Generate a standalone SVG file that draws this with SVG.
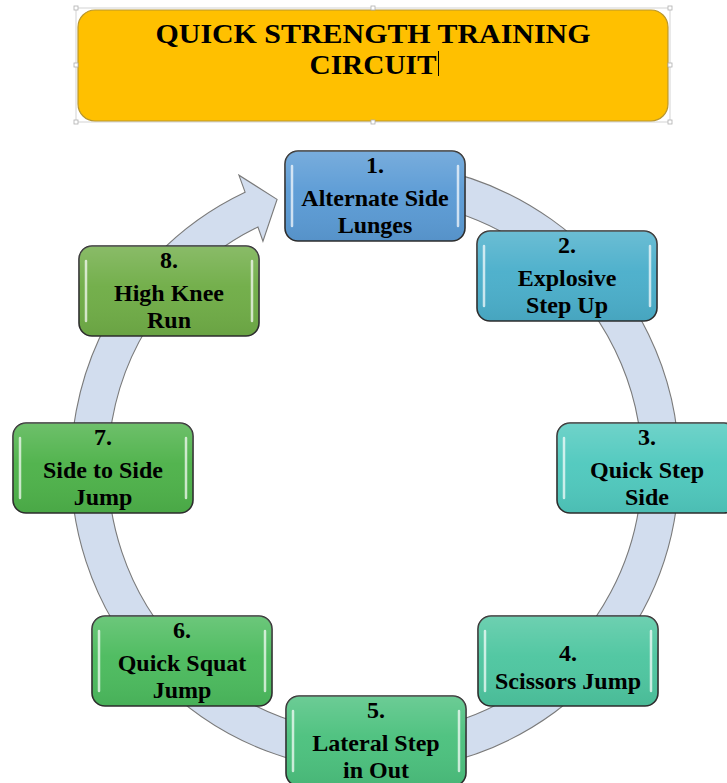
<svg xmlns="http://www.w3.org/2000/svg" width="727" height="783" viewBox="0 0 727 783">
<style>
  .t{font-family:"Liberation Serif","Times New Roman",serif;font-weight:bold;fill:#000;text-anchor:middle}
  .title{font-size:28px}
  .lbl{font-size:24px}
  .box{stroke:#2e2e2e;stroke-width:1.6}
  .hl{stroke:#ffffff;stroke-opacity:0.7;stroke-width:2.5;stroke-linecap:round;fill:none}
  .handle{fill:#fff;stroke:#b0b0b0;stroke-width:0.8}
</style>
<defs>
  <linearGradient id="gloss" x1="0" y1="0" x2="0" y2="1">
    <stop offset="0" stop-color="#fff" stop-opacity="0.18"/>
    <stop offset="0.45" stop-color="#fff" stop-opacity="0.03"/>
    <stop offset="1" stop-color="#000" stop-opacity="0.06"/>
  </linearGradient>
</defs>
<rect width="727" height="783" fill="#fff"/>

<g id="title">
  <rect x="76" y="8" width="594" height="114" fill="none" stroke="#c8c8c8" stroke-width="0.8"/>
  <rect x="78" y="10" width="590" height="111" rx="17" fill="#FFC000" stroke="#B8962E" stroke-width="1.2"/>
  <rect class="handle" x="74" y="6" width="4" height="4"/>
  <rect class="handle" x="371" y="6" width="4" height="4"/>
  <rect class="handle" x="668" y="6" width="4" height="4"/>
  <rect class="handle" x="74" y="63" width="4" height="4"/>
  <rect class="handle" x="668" y="63" width="4" height="4"/>
  <rect class="handle" x="74" y="120" width="4" height="4"/>
  <rect class="handle" x="371" y="120" width="4" height="4"/>
  <rect class="handle" x="668" y="120" width="4" height="4"/>
  <text class="t title" x="373" y="43" textLength="435" lengthAdjust="spacingAndGlyphs">QUICK STRENGTH TRAINING</text>
  <text class="t title" x="373" y="74" textLength="127" lengthAdjust="spacingAndGlyphs">CIRCUIT</text>
  <line x1="438.5" y1="51" x2="438.5" y2="76" stroke="#000" stroke-width="1"/>
</g>

<g id="connectors">
  <path d="M427.79,167.62 A304,304 0 1 1 245.08,192.16 L238.92,175.17 L277.06,199.36 L262.95,241.28 L257.95,227.02 A267,267 0 1 0 421.36,204.06 Z" fill="#D2DDEE" stroke="#7a7a7a" stroke-width="1.1" stroke-linejoin="miter"/>
</g>

<g id="node1">
  <rect class="box" x="285" y="151" width="180" height="90" rx="13" fill="#5B9BD5"/>
  <rect x="285" y="151" width="180" height="90" rx="13" fill="url(#gloss)"/>
  <line class="hl" x1="292" y1="166" x2="292" y2="226"/>
  <line class="hl" x1="458" y1="166" x2="458" y2="226"/>
  <text class="t lbl" x="375" y="173">1.</text>
  <text class="t lbl" x="375" y="206">Alternate Side</text>
  <text class="t lbl" x="375" y="233">Lunges</text>
</g>

<g id="node2">
  <rect class="box" x="477" y="231" width="180" height="90" rx="13" fill="#4BAFCB"/>
  <rect x="477" y="231" width="180" height="90" rx="13" fill="url(#gloss)"/>
  <line class="hl" x1="484" y1="246" x2="484" y2="306"/>
  <line class="hl" x1="650" y1="246" x2="650" y2="306"/>
  <text class="t lbl" x="567" y="253">2.</text>
  <text class="t lbl" x="567" y="286">Explosive</text>
  <text class="t lbl" x="567" y="313">Step Up</text>
</g>

<g id="node3">
  <rect class="box" x="557" y="423" width="180" height="90" rx="13" fill="#50C9BE"/>
  <rect x="557" y="423" width="180" height="90" rx="13" fill="url(#gloss)"/>
  <line class="hl" x1="564" y1="438" x2="564" y2="498"/>
  <text class="t lbl" x="647" y="445">3.</text>
  <text class="t lbl" x="647" y="478">Quick Step</text>
  <text class="t lbl" x="647" y="505">Side</text>
</g>

<g id="node4">
  <rect class="box" x="478" y="616" width="180" height="90" rx="13" fill="#4EC6A0"/>
  <rect x="478" y="616" width="180" height="90" rx="13" fill="url(#gloss)"/>
  <line class="hl" x1="485" y1="631" x2="485" y2="691"/>
  <line class="hl" x1="651" y1="631" x2="651" y2="691"/>
  <text class="t lbl" x="568" y="661">4.</text>
  <text class="t lbl" x="568" y="689">Scissors Jump</text>
</g>

<g id="node5">
  <rect class="box" x="286" y="696" width="180" height="90" rx="13" fill="#4CC17E"/>
  <rect x="286" y="696" width="180" height="90" rx="13" fill="url(#gloss)"/>
  <line class="hl" x1="293" y1="711" x2="293" y2="771"/>
  <line class="hl" x1="459" y1="711" x2="459" y2="771"/>
  <text class="t lbl" x="376" y="718">5.</text>
  <text class="t lbl" x="376" y="751">Lateral Step</text>
  <text class="t lbl" x="376" y="778">in Out</text>
</g>

<g id="node6">
  <rect class="box" x="92" y="616" width="180" height="90" rx="13" fill="#4CBB5E"/>
  <rect x="92" y="616" width="180" height="90" rx="13" fill="url(#gloss)"/>
  <line class="hl" x1="99" y1="631" x2="99" y2="691"/>
  <line class="hl" x1="265" y1="631" x2="265" y2="691"/>
  <text class="t lbl" x="182" y="638">6.</text>
  <text class="t lbl" x="182" y="671">Quick Squat</text>
  <text class="t lbl" x="182" y="698">Jump</text>
</g>

<g id="node7">
  <rect class="box" x="13" y="423" width="180" height="90" rx="13" fill="#4EB24A"/>
  <rect x="13" y="423" width="180" height="90" rx="13" fill="url(#gloss)"/>
  <line class="hl" x1="20" y1="438" x2="20" y2="498"/>
  <line class="hl" x1="186" y1="438" x2="186" y2="498"/>
  <text class="t lbl" x="103" y="445">7.</text>
  <text class="t lbl" x="103" y="478">Side to Side</text>
  <text class="t lbl" x="103" y="505">Jump</text>
</g>

<g id="node8">
  <rect class="box" x="79" y="246" width="180" height="90" rx="13" fill="#70AD47"/>
  <rect x="79" y="246" width="180" height="90" rx="13" fill="url(#gloss)"/>
  <line class="hl" x1="86" y1="261" x2="86" y2="321"/>
  <line class="hl" x1="252" y1="261" x2="252" y2="321"/>
  <text class="t lbl" x="169" y="268">8.</text>
  <text class="t lbl" x="169" y="301">High Knee</text>
  <text class="t lbl" x="169" y="328">Run</text>
</g>
</svg>
